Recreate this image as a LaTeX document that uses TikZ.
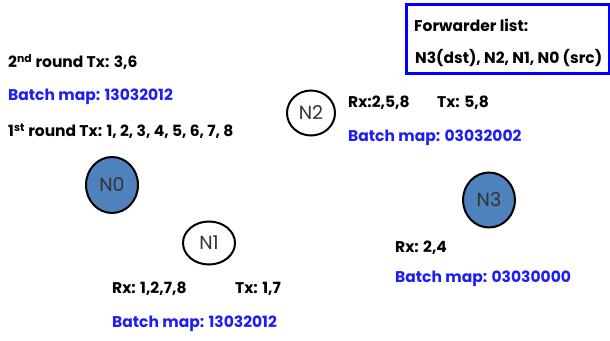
\documentclass[tikz,border=0pt]{standalone}
\usepackage{fontspec}
\setmainfont{Poppins}
\usetikzlibrary{shapes.geometric}
\definecolor{nodeblue}{HTML}{4F81BD}
\definecolor{txtblue}{HTML}{1E1EF0}
\tikzset{
  lbl/.style={anchor=west, inner sep=0pt, font=\fontsize{15.5}{17}\selectfont\bfseries, text=black},
  blbl/.style={lbl, text=txtblue},
  nd/.style={ellipse, draw=black, line width=2pt, inner sep=0pt, font=\fontsize{19}{21}\selectfont, text=black!80},
  src/.style={nd, fill=nodeblue},
}
\begin{document}
\begin{tikzpicture}[x=1pt,y=-1pt]
\useasboundingbox (0,0) rectangle (610,340);
% forwarder box
\node[draw=blue, line width=2.5pt, minimum width=203pt, minimum height=69pt, anchor=north west, inner sep=0pt] (box) at (405,3) {};
\node[lbl] (fl) at (414,25) {Forwarder list:};
\node[lbl] (fl2) at (415,58) {N3(dst), N2, N1, N0 (src)};
% left texts
\node[lbl] (r2) at (8,62) {2\textsuperscript{nd} round Tx: 3,6};
\node[blbl] (bm0) at (8,97) {Batch map: 13032012};
\node[lbl] (r1) at (8,131) {1\textsuperscript{st} round Tx: 1, 2, 3, 4, 5, 6, 7, 8};
% nodes
\node[src, minimum width=52pt, minimum height=56pt] (n0) at (112,185) {N0};
\node[nd, minimum width=52pt, minimum height=43pt] (n1) at (209,243) {N1};
\node[nd, minimum width=48pt, minimum height=45pt] (n2) at (311,113) {N2};
\node[src, minimum width=52pt, minimum height=55pt] (n3) at (489,200) {N3};
% N1 texts
\node[lbl] (n1rx) at (112,289) {Rx: 1,2,7,8};
\node[lbl] (n1tx) at (235,289) {Tx: 1,7};
\node[blbl] (n1bm) at (112,324) {Batch map: 13032012};
% N2 texts
\node[lbl] (n2rx) at (348,103) {Rx:2,5,8};
\node[lbl] (n2tx) at (437,103) {Tx: 5,8};
\node[blbl] (n2bm) at (348,138) {Batch map: 03032002};
% N3 texts
\node[lbl] (n3rx) at (395,248) {Rx: 2,4};
\node[blbl] (n3bm) at (395,279) {Batch map: 03030000};
\end{tikzpicture}
\end{document}
